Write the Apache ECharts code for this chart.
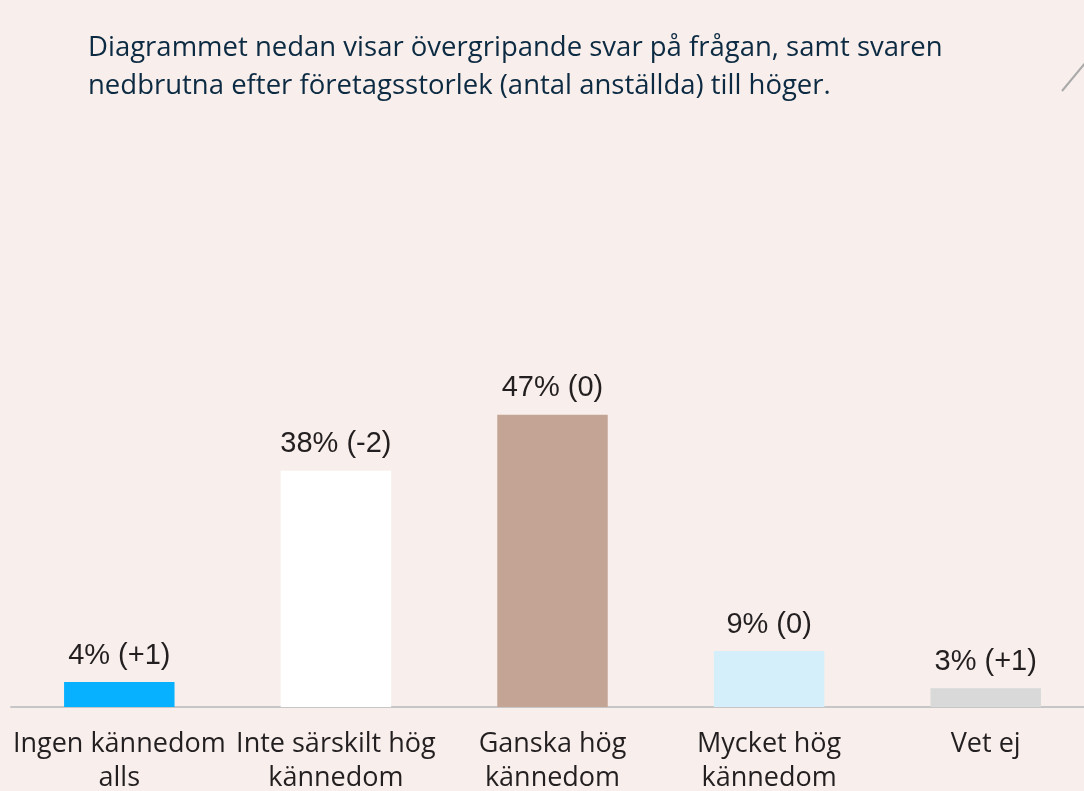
<!DOCTYPE html>
<html>
<head>
<meta charset="utf-8">
<script src="https://cdn.jsdelivr.net/npm/echarts@6/dist/echarts.min.js"></script>
<style>
  html, body { margin: 0; padding: 0; background: #f8efec; }
  #chart { width: 1084px; height: 791px; }
</style>
</head>
<body>
<div id="chart"></div>
<script>
// kategorier och värden (andel i procent, förändring mot föregående mätning)
var categories = ['Ingen kännedom\nalls', 'Inte särskilt hög\nkännedom', 'Ganska hög\nkännedom', 'Mycket hög\nkännedom', 'Vet ej'];
var values = [4, 38, 47, 9, 3];
var changes = ['+1', '-2', '0', '0', '+1'];
var barColors = ['#08b1ff', '#ffffff', '#c4a494', '#d4effa', '#d9d9d9'];

var myChart = echarts.init(document.getElementById('chart'));

var option = {
    backgroundColor: '#f8efec',
    animation: false,
    title: {
        text: 'Diagrammet nedan visar övergripande svar på frågan, samt svaren\nnedbrutna efter företagsstorlek (antal anställda) till höger.',
        left: 83,
        top: 24,
        textStyle: {
            color: '#0c2a42',
            fontFamily: 'Open Sans',
            fontSize: 27.5,
            fontWeight: 'normal',
            lineHeight: 38
        }
    },
    graphic: [{
        type: 'line',
        shape: { x1: 1062, y1: 91, x2: 1086, y2: 62 },
        style: { stroke: '#a9a9a9', lineWidth: 2 }
    }],
    grid: {
        left: 11,
        width: 1083,
        top: 85,
        bottom: 84,
        outerBoundsMode: 'none'
    },
    xAxis: {
        type: 'category',
        data: categories,
        axisLine: { lineStyle: { color: '#c6c6c6', width: 2 } },
        axisTick: { show: false },
        axisLabel: {
            interval: 0,
            margin: 20,
            color: '#231f20',
            fontFamily: 'Open Sans',
            fontSize: 27,
            lineHeight: 34
        }
    },
    yAxis: {
        type: 'value',
        min: 0,
        max: 100,
        show: false,
        splitLine: { show: false }
    },
    series: [{
        type: 'bar',
        barWidth: '51%',
        data: values.map(function (v, i) {
            return { value: v, itemStyle: { color: barColors[i] } };
        }),
        label: {
            show: true,
            position: 'top',
            distance: 12,
            color: '#231f20',
            fontFamily: 'Liberation Sans',
            fontSize: 29,
            formatter: function (p) {
                return p.value + '% (' + changes[p.dataIndex] + ')';
            }
        }
    }]
};

myChart.setOption(option);
</script>
</body>
</html>
